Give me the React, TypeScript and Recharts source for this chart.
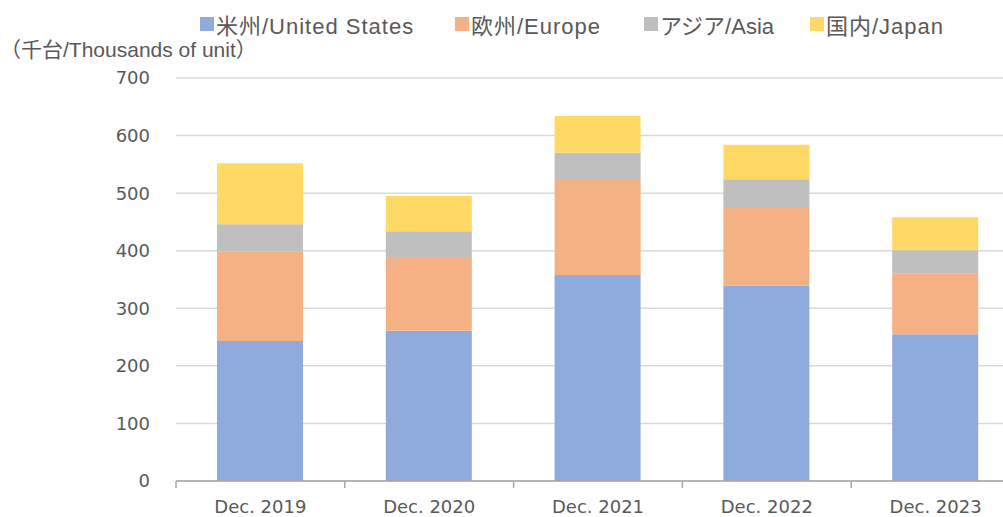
import React from "react";
import {
  BarChart,
  Bar,
  XAxis,
  YAxis,
  CartesianGrid,
  Legend,
} from "recharts";

const categories = ["Dec. 2019", "Dec. 2020", "Dec. 2021", "Dec. 2022", "Dec. 2023"];
const unitedStates = [243, 261, 358, 339, 255];
const europe = [156, 128, 165, 135, 106];
const asia = [47, 45, 47, 50, 40];
const japan = [106, 61, 64, 60, 57];
const yTicks = [0, 100, 200, 300, 400, 500, 600, 700];
const seriesNames = ["米州/United States", "欧州/Europe", "アジア/Asia", "国内/Japan"];
const seriesColors = ["#8faadc", "#f4b183", "#bfbfbf", "#ffd966"];
const unitLabel = "（千台/Thousands of unit）";

// legend item widths (px), so the entries sit where the picture has them
const legendItemWidths = [255, 189, 166, 140];

const data = categories.map((name, i) => ({
  name,
  us: unitedStates[i],
  eu: europe[i],
  asia: asia[i],
  jp: japan[i],
}));

// chart is a bit wider than the picture: the last band runs off the right edge
const CHART_W = 1020;
const CHART_H = 517;
const AXIS_W = 176;
const HALF_BAND = (CHART_W - AXIS_W) / categories.length / 2;

const TEXT = "#595959";
const LATIN_CJK = '"Liberation Sans", "Noto Sans CJK JP", sans-serif';

function XTick({ x, y, payload }: any) {
  return (
    <g>
      <line x1={x - HALF_BAND} y1={y} x2={x - HALF_BAND} y2={y + 7} stroke="#a6a6a6" strokeWidth={1.5} />
      <text
        x={x}
        y={y + 32}
        textAnchor="middle"
        fill={TEXT}
        fontSize={18}
        fontFamily='"DejaVu Sans", sans-serif'
      >
        {payload.value}
      </text>
    </g>
  );
}

function LegendRow() {
  return (
    <div style={{ display: "flex", alignItems: "center", height: 28 }}>
      {seriesNames.map((name, i) => (
        <div
          key={name}
          style={{ display: "flex", alignItems: "center", width: legendItemWidths[i], flex: "none" }}
        >
          <span
            style={{
              width: 14,
              height: 14,
              background: seriesColors[i],
              display: "inline-block",
              marginRight: 2,
            }}
          />
          <span
            style={{
              fontFamily: LATIN_CJK,
              fontSize: 22,
              letterSpacing: i === 2 ? 0 : 1,
              color: TEXT,
              whiteSpace: "nowrap",
            }}
          >
            {name}
          </span>
        </div>
      ))}
    </div>
  );
}

export default function App() {
  return (
    <div
      style={{
        position: "absolute",
        left: 0,
        top: 0,
        width: 1003,
        height: CHART_H,
        overflow: "hidden",
        background: "#fff",
      }}
    >
      <BarChart
        width={CHART_W}
        height={CHART_H}
        data={data}
        margin={{ top: 78, right: 0, bottom: 0, left: 0 }}
      >
        <CartesianGrid vertical={false} stroke="#d9d9d9" strokeWidth={1.5} />
        <XAxis
          dataKey="name"
          height={36}
          axisLine={{ stroke: "#a6a6a6", strokeWidth: 1.5 }}
          tickLine={false}
          tickSize={0}
          tickMargin={0}
          interval={0}
          tick={<XTick />}
        />
        <YAxis
          width={AXIS_W}
          domain={[0, 700]}
          ticks={yTicks}
          axisLine={false}
          tickLine={false}
          tickSize={0}
          tickMargin={26}
          tick={{ fill: TEXT, fontSize: 18, fontFamily: '"DejaVu Sans", sans-serif' }}
        />
        <Legend
          verticalAlign="middle"
          align="center"
          content={<LegendRow />}
          wrapperStyle={{ top: 10, left: 200, width: "auto" }}
        />
        <Bar dataKey="us" name={seriesNames[0]} stackId="a" fill={seriesColors[0]} barSize={86} isAnimationActive={false} />
        <Bar dataKey="eu" name={seriesNames[1]} stackId="a" fill={seriesColors[1]} barSize={86} isAnimationActive={false} />
        <Bar dataKey="asia" name={seriesNames[2]} stackId="a" fill={seriesColors[2]} barSize={86} isAnimationActive={false} />
        <Bar dataKey="jp" name={seriesNames[3]} stackId="a" fill={seriesColors[3]} barSize={86} isAnimationActive={false} />
      </BarChart>
      <svg
        width={300}
        height={70}
        style={{ position: "absolute", left: 0, top: 0, pointerEvents: "none" }}
      >
        <text x={0} y={57} fill={TEXT} fontSize={21} fontFamily={LATIN_CJK}>
          {unitLabel}
        </text>
      </svg>
    </div>
  );
}
